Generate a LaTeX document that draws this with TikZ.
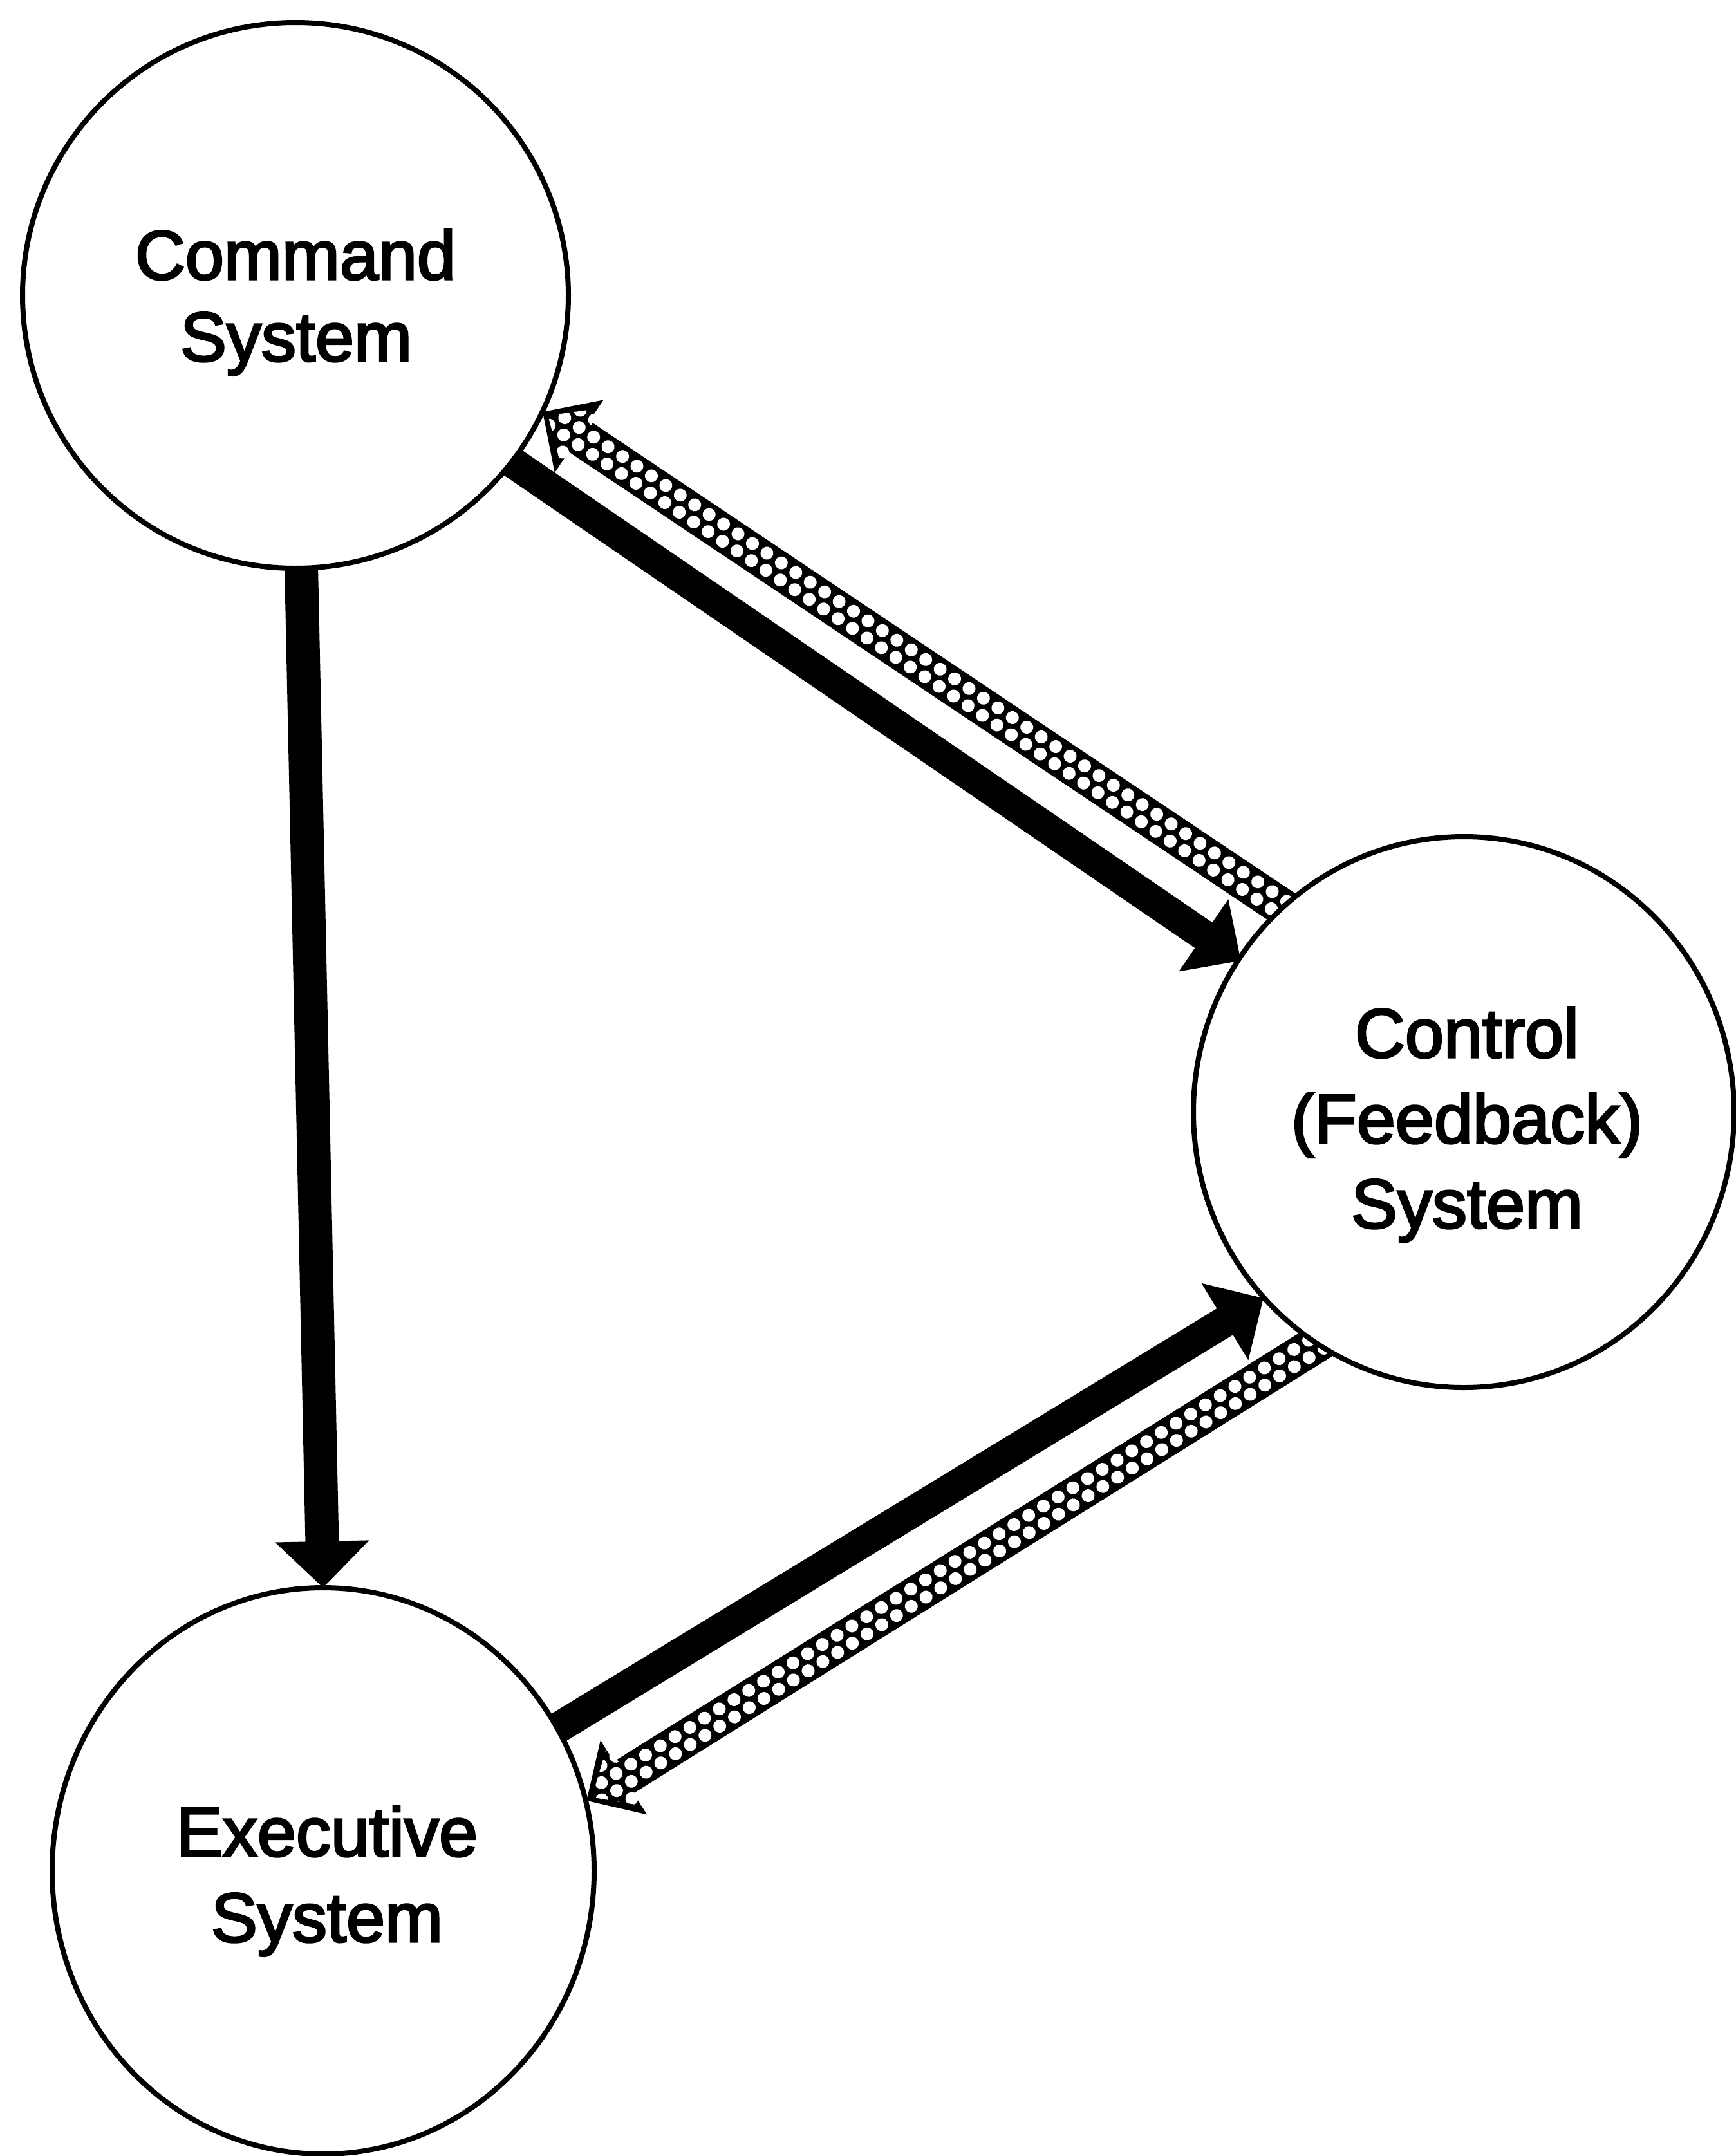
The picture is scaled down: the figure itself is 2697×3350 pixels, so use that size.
\documentclass[tikz,border=0pt]{standalone}
\usepackage{fontspec}
\setmainfont{Liberation Sans}
\newfontfamily\lblfont{Liberation Sans}[FakeBold=3]
\usetikzlibrary{calc,shapes.geometric}
\pgfdeclarelayer{back}
\pgfdeclarelayer{paper}
\pgfsetlayers{paper,back,main}

\newcommand\arrowgeom[2]{%
  \path let \p1=($(#2)-(#1)$) in \pgfextra{%
    \pgfmathsetmacro\tmpang{atan2(\y1,\x1)}%
    \pgfmathsetmacro\tmplen{100*veclen(\x1/100,\y1/100)}%
    \global\let\ArAng\tmpang
    \global\let\ArLen\tmplen};%
}
% solid arrow: from, to, half shaft, head length, head half width
\newcommand\solidarr[5]{%
  \arrowgeom{#1}{#2}%
  \begin{scope}[shift={(#1)}, rotate=\ArAng]
    \fill (0,-#3) -- ({\ArLen-#4},-#3) -- ({\ArLen-#4},-#5) -- (\ArLen,0)
      -- ({\ArLen-#4},#5) -- ({\ArLen-#4},#3) -- (0,#3) -- cycle;
  \end{scope}}
% dotted (patterned) arrow: from, to
\newcommand\dotarr[2]{%
  \arrowgeom{#1}{#2}%
  \begin{scope}[shift={(#1)}, rotate=\ArAng]
    \fill (0,-29) -- ({\ArLen-68},-29) -- ({\ArLen-68},-68) -- (\ArLen,0)
      -- ({\ArLen-68},68) -- ({\ArLen-68},29) -- (0,29) -- cycle;
    \begin{scope}
      \clip (0,-23) -- ({\ArLen-74},-23) -- ({\ArLen-74},-57) -- ({\ArLen-10},0)
        -- ({\ArLen-74},57) -- ({\ArLen-74},23) -- (0,23) -- cycle;
      \pgfmathtruncatemacro\DAn{\ArLen/27+1}
      \foreach \k in {-4,...,3}{
        \foreach \i in {0,...,\DAn}{
          \fill[white] ({\i*27+mod(\k+4,2)*13.5},{(\k+0.5)*23}) circle[radius=10];
        }}
    \end{scope}
  \end{scope}}

\begin{document}
\begin{tikzpicture}[x=1pt,y=-1pt,
  sys/.style={draw, line width=8pt, fill=white, inner sep=0pt, outer sep=0pt},
  lbl/.style={anchor=base, inner sep=0pt, font=\lblfont\fontsize{108pt}{130pt}\selectfont}]
\begin{pgfonlayer}{paper}
  \fill[white] (0,0) rectangle (2697,3350);
\end{pgfonlayer}
\useasboundingbox (0,0) rectangle (2697,3350);

\node[sys, circle, minimum size=848pt] (cmd) at (459,459) {};
\node[sys, ellipse, minimum width=840pt, minimum height=856pt] (ctl) at (2274,1728) {};
\node[sys, ellipse, minimum width=842pt, minimum height=880pt] (exe) at (502,2907) {};

\node[lbl] (cmdA) at (459,434) {Command};
\node[lbl] (cmdB) at (460,561) {System};
\node[lbl] (ctlA) at (2279,1643) {Control};
\node[lbl] (ctlB) at (2279,1776) {(Feedback)};
\node[lbl] (ctlC) at (2279,1908) {System};
\node[lbl] (exeA) at (508,2884) {Executive};
\node[lbl] (exeB) at (508,3017) {System};

\coordinate (s1a) at (740,680);
\coordinate (s1b) at (1928,1493);
\coordinate (d1a) at (2015,1425);
\coordinate (d1b) at (843,640);
\coordinate (s2b) at (1963,2017);
\coordinate (d2a) at (2062,2078);
\coordinate (d2b) at (911,2798);

\begin{pgfonlayer}{back}
  \solidarr{cmd.center}{exe.north}{26}{72}{73}
  \solidarr{s1a}{s1b}{24}{70}{68}
  \solidarr{exe.center}{s2b}{24}{70}{70}
  \dotarr{d1a}{d1b}
  \dotarr{d2a}{d2b}
\end{pgfonlayer}
\end{tikzpicture}
\end{document}
